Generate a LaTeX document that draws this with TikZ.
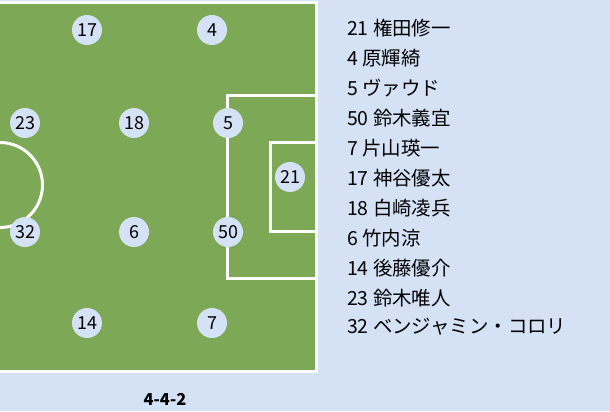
\documentclass[tikz,border=0pt]{standalone}
\usepackage{fontspec}
\setmainfont{Noto Sans CJK JP}
\definecolor{bgblue}{HTML}{D5E2F6}
\definecolor{pitch}{HTML}{7DA956}
\tikzset{
  pline/.style={draw=white, line width=3bp},
  player/.style={circle, fill=bgblue, minimum size=30bp, inner sep=0pt, font=\fontsize{18}{20}\selectfont},
  entry/.style={anchor=west, inner sep=0pt, font=\fontsize{19.5}{22}\selectfont}
}
\begin{document}
\begin{tikzpicture}[x=1bp,y=-1bp]
\fill[bgblue] (0,0) rectangle (610,411);
\useasboundingbox (0,0) rectangle (610,411);
\begin{scope}
\clip (0,0) rectangle (610,411);
\fill[pitch] (-10,2.5) rectangle (316.5,371.5);
\draw[pline] (-10,2.5) rectangle (316.5,371.5);
\draw[pline] (316.5,95.5) -| (227.5,278.5) -- (316.5,278.5);
\draw[pline] (316.5,142) -| (270,231) -- (316.5,231);
\begin{scope}
\clip (0,2.5) rectangle (316.5,371.5);
\draw[pline] (0,185) circle (42.5);
\end{scope}
\end{scope}
\node[player] (p17) at (87,30) {17};
\node[player] (p4) at (212,30) {4};
\node[player] (p23) at (25,123) {23};
\node[player] (p18) at (134,123) {18};
\node[player] (p5) at (228,123) {5};
\node[player] (p21) at (290,177) {21};
\node[player] (p32) at (25,232) {32};
\node[player] (p6) at (134,232) {6};
\node[player] (p50) at (228,232) {50};
\node[player] (p14) at (87,323) {14};
\node[player] (p7) at (212,323) {7};
\node[font=\fontsize{16.5}{18}\selectfont\bfseries] (title) at (165,399) {4-4-2};
\node[entry] (e1) at (347,28) {21 権田修一};
\node[entry] (e2) at (347,58) {4 原輝綺};
\node[entry] (e3) at (347,88) {5 ヴァウド};
\node[entry] (e4) at (347,118) {50 鈴木義宜};
\node[entry] (e5) at (347,148) {7 片山瑛一};
\node[entry] (e6) at (347,178) {17 神谷優太};
\node[entry] (e7) at (347,208) {18 白崎凌兵};
\node[entry] (e8) at (347,238) {6 竹内涼};
\node[entry] (e9) at (347,268) {14 後藤優介};
\node[entry] (e10) at (347,298) {23 鈴木唯人};
\node[entry] (e11) at (347,327) {32 ベンジャミン・コロリ};
\end{tikzpicture}
\end{document}
